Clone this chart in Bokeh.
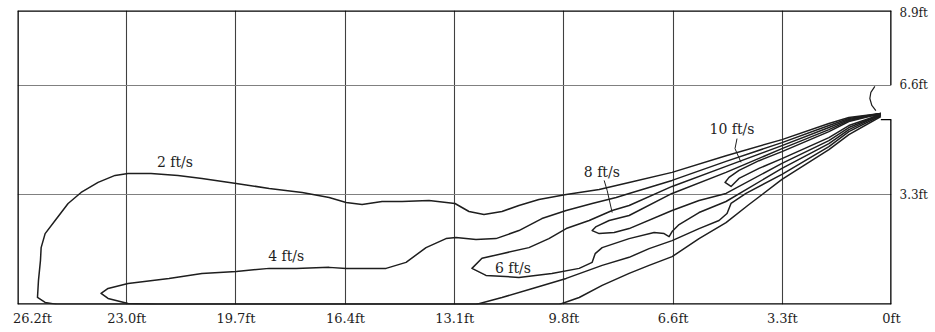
from bokeh.plotting import figure
from bokeh.models import Range1d, FixedTicker, ColumnDataSource
from bokeh.core.properties import value
from bokeh.embed import file_html
from bokeh.resources import INLINE

# ---- axes (distance from nozzle, ft) ----
x_tick_values = [26.25, 22.97, 19.69, 16.40, 13.12, 9.84, 6.56, 3.28, 0.0]
x_tick_labels = ["\u00a0" * 3 + "26.2ft", "23.0ft", "19.7ft", "16.4ft", "13.1ft", "9.8ft", "6.6ft", "3.3ft", "0ft"]
y_tick_values = [3.28, 6.56, 8.72]
y_tick_labels = ["3.3ft", "6.6ft", "8.9ft"]
y_grid_values = [3.28, 6.56]
x_extent = 26.25
y_extent = 8.79

# ---- velocity contours (ft) ----
c2_x = [0.32, 1.28, 1.88, 3.29, 4.97, 6.59, 7.88, 8.78, 9.77, 10.59, 11.19, 11.70, 12.24, 12.69, 13.11, 13.89,
        14.70, 15.30, 15.90, 16.38, 16.89, 17.70, 18.69, 19.68, 20.71, 21.43, 22.24, 22.93, 23.32, 23.83, 24.34,
        24.73, 25.12, 25.42, 25.54, 25.56, 25.62, 25.65, 25.42, 25.06, 9.98, 9.38, 8.69, 7.88, 7.28, 6.59, 5.78,
        4.97, 4.28, 3.29, 1.88, 1.28, 0.32]
c2_y = [5.71, 5.59, 5.41, 4.93, 4.45, 3.95, 3.65, 3.44, 3.29, 3.14, 2.96, 2.78, 2.69, 2.78, 3.02, 3.11,
        3.08, 3.08, 2.99, 3.05, 3.20, 3.35, 3.47, 3.62, 3.77, 3.86, 3.92, 3.92, 3.86, 3.65, 3.35,
        3.02, 2.51, 2.12, 1.70, 1.32, 0.72, 0.21, 0.06, 0.0, 0.0, 0.21, 0.57, 0.93, 1.17, 1.43, 1.97,
        2.45, 2.99, 3.74, 4.63, 5.08, 5.62]

c4_x = [0.32, 1.28, 1.88, 3.29, 4.97, 6.59, 7.88, 8.27, 8.99, 9.77, 10.50, 11.19, 11.88, 12.48, 13.08, 13.38,
        13.98, 14.58, 15.18, 16.38, 16.89, 17.88, 18.69, 19.68, 20.71, 21.70, 22.93, 23.53, 23.74, 23.53, 22.93,
        22.03, 12.48, 11.70, 10.68, 9.77, 8.69, 7.88, 7.28, 6.59, 5.78, 5.18, 4.94, 4.82, 4.37, 3.29, 1.88,
        1.28, 0.32]
c4_y = [5.71, 5.56, 5.35, 4.84, 4.28, 3.71, 3.32, 3.20, 3.02, 2.81, 2.57, 2.21, 1.97, 1.94, 2.00, 1.97,
        1.70, 1.26, 1.08, 1.08, 1.11, 1.08, 1.08, 0.99, 0.93, 0.78, 0.63, 0.48, 0.33, 0.18, 0.03,
        0.0, 0.0, 0.21, 0.51, 0.78, 1.17, 1.41, 1.67, 1.91, 2.27, 2.51, 2.72, 3.02, 3.32, 3.89, 4.72,
        5.17, 5.65]

c6_x = [0.32, 1.28, 1.88, 3.29, 4.97, 6.59, 7.88, 8.39, 9.08, 9.77, 10.29, 10.89, 11.70, 12.30, 12.60, 12.18,
        11.19, 10.20, 9.38, 8.99, 8.90, 8.69, 7.88, 7.13, 6.83, 6.68, 6.59, 6.38, 5.78, 4.97, 3.29, 1.88,
        1.28, 0.32]
c6_y = [5.71, 5.53, 5.29, 4.75, 4.13, 3.53, 2.96, 2.81, 2.51, 2.27, 1.97, 1.70, 1.52, 1.38, 1.08, 0.87,
        0.81, 0.93, 1.08, 1.26, 1.52, 1.70, 1.97, 2.15, 2.12, 2.03, 2.18, 2.39, 2.75, 3.08, 4.07, 4.81,
        5.23, 5.68]

c8_x = [0.32, 1.28, 1.88, 3.29, 4.97, 6.59, 7.88, 8.48, 8.87, 8.99, 8.78, 8.33, 7.88, 6.59, 5.78, 4.97,
        3.29, 1.88, 1.28, 0.32]
c8_y = [5.71, 5.50, 5.23, 4.66, 3.95, 3.32, 2.66, 2.51, 2.33, 2.21, 2.12, 2.15, 2.27, 2.81, 3.11, 3.32,
        4.22, 4.90, 5.29, 5.68]

c10_x = [0.32, 1.28, 1.88, 3.29, 3.98, 4.58, 4.88, 5.00, 4.82, 4.58, 3.98, 3.29, 1.88, 1.28, 0.32]
c10_y = [5.71, 5.47, 5.17, 4.57, 4.30, 4.01, 3.80, 3.65, 3.53, 3.77, 4.07, 4.36, 4.99, 5.35, 5.68]

# ---- contour labels ----
label_text = ["2 ft/s", "4 ft/s", "6 ft/s", "8 ft/s", "10 ft/s"]
label_x = [21.52, 18.18, 11.37, 8.70, 4.79]
label_y = [4.25, 1.46, 1.08, 3.95, 5.26]

leader8_x = [8.63, 8.54, 8.39]
leader8_y = [3.71, 3.41, 2.75]
leader10_x = [4.64, 4.70, 4.52]
leader10_y = [4.96, 4.66, 4.25]

# ---- nozzle outline at right wall ----
nozzle_x = [0.50, 0.62, 0.65, 0.59, 0.47]
nozzle_y = [6.52, 6.34, 6.16, 5.95, 5.80]
wall_gap = [5.53, 6.56]
nozzle_lip = 0.32

SERIF = "DejaVu Serif"
INK = "#1e1e1e"

p = figure(frame_width=874, frame_height=294,
           x_range=Range1d(x_extent, 0), y_range=Range1d(0, y_extent),
           y_axis_location="right", output_backend="svg", toolbar_location=None,
           min_border_left=17, min_border_top=10, min_border_bottom=0, min_border_right=0)
p.outline_line_color = None
p.background_fill_color = "white"
p.border_fill_color = "white"

# grid
p.xgrid.ticker = FixedTicker(ticks=x_tick_values)
p.xgrid.grid_line_color = "#404040"
p.xgrid.grid_line_width = 1.1
p.ygrid.ticker = FixedTicker(ticks=y_grid_values)
p.ygrid.grid_line_color = "#808080"
p.ygrid.grid_line_width = 1.1

# axes
p.xaxis.ticker = FixedTicker(ticks=x_tick_values)
p.xaxis.major_label_overrides = dict(zip(x_tick_values, x_tick_labels))
p.yaxis.ticker = FixedTicker(ticks=y_tick_values)
p.yaxis.major_label_overrides = dict(zip(y_tick_values, y_tick_labels))
for ax, size, stand in ((p.xaxis, "13px", 6), (p.yaxis, "12px", 8)):
    ax.axis_line_color = None
    ax.major_tick_line_color = None
    ax.minor_tick_line_color = None
    ax.major_tick_out = 0
    ax.major_label_text_font = SERIF
    ax.major_label_text_font_size = size
    ax.major_label_text_color = INK
    ax.major_label_standoff = stand

# frame walls (right wall open at the nozzle)
p.multi_line(xs=[[x_extent, 0], [x_extent, x_extent], [x_extent, 0], [0, 0], [0, 0]],
             ys=[[y_extent, y_extent], [0, y_extent], [0, 0], [y_extent, wall_gap[1]], [wall_gap[0], 0]],
             line_color="black", line_width=2.6)
p.line([nozzle_lip, 0], [wall_gap[0], wall_gap[0]], line_color="black", line_width=1.3)
p.line(nozzle_x, nozzle_y, line_color=INK, line_width=1.2)

# contours
for cx, cy in ((c2_x, c2_y), (c4_x, c4_y), (c6_x, c6_y), (c8_x, c8_y), (c10_x, c10_y)):
    p.line(cx, cy, line_color=INK, line_width=1.5, line_join="round")

p.line(leader8_x, leader8_y, line_color=INK, line_width=1.0)
p.line(leader10_x, leader10_y, line_color=INK, line_width=1.0)

src = ColumnDataSource(dict(x=label_x, y=label_y, t=label_text))
p.text(x="x", y="y", text="t", source=src, text_font=value(SERIF), text_font_size="14px",
       text_color=INK, text_align="center", text_baseline="middle")

open("out.html", "w").write(file_html(p, INLINE))
